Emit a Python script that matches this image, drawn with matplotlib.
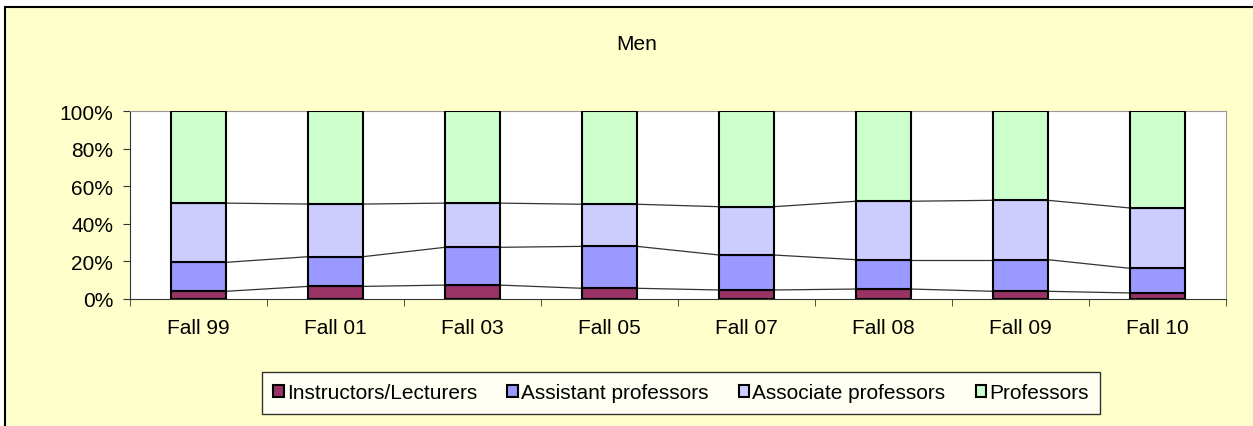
import matplotlib.pyplot as plt
import numpy as np
from matplotlib.patches import Rectangle
from matplotlib.ticker import PercentFormatter

plt.rcParams['font.family'] = ['Liberation Sans', 'DejaVu Sans']

# share of men faculty by rank, percent
terms = ["Fall 99", "Fall 01", "Fall 03", "Fall 05", "Fall 07", "Fall 08", "Fall 09", "Fall 10"]
instructors = [4.1, 6.7, 7.4, 5.7, 4.8, 5.3, 4.1, 3.2]
assistant = [15.4, 15.8, 20.1, 22.3, 18.6, 15.6, 16.8, 13.1]
associate = [31.5, 28.0, 23.5, 22.4, 25.7, 31.1, 31.6, 32.1]
professors = [49.0, 49.5, 49.0, 49.6, 50.9, 48.0, 47.5, 51.6]

series = [
    ("Instructors/Lecturers", instructors, "#993366"),
    ("Assistant professors", assistant, "#9999FF"),
    ("Associate professors", associate, "#CCCCFF"),
    ("Professors", professors, "#CCFFCC"),
]

bg = "#FFFFCC"
fs = 15
fig = plt.figure(figsize=(12.53, 4.27), dpi=100, facecolor="white")
fig.patches.append(Rectangle((5 / 1253, -0.05), 1.1, 1 - 8 / 427 + 0.05,
                             transform=fig.transFigure, facecolor=bg,
                             edgecolor="black", linewidth=1.5, zorder=-1))

ax = fig.add_axes([130 / 1253, 1 - 300 / 427, 1096 / 1253, 188 / 427])
ax.set_facecolor("white")

x = np.arange(len(terms))
w = 0.4
bottom = np.zeros(len(terms))
handles = []
for name, vals, color in series:
    vals = np.array(vals)
    b = ax.bar(x, vals, w, bottom=bottom, color=color, edgecolor="black",
               linewidth=1.5, label=name, zorder=3)
    handles.append(b)
    top = bottom + vals
    # series lines joining the tops of neighbouring stacks
    if name != "Professors":
        for i in range(len(terms) - 1):
            ax.plot([x[i] + w / 2, x[i + 1] - w / 2], [top[i], top[i + 1]],
                    color="#333333", linewidth=0.9, zorder=2)
    bottom = top

ax.set_xlim(-0.5, len(terms) - 0.5)
ax.set_ylim(0, 100)
ax.set_yticks(np.arange(0, 101, 20))
ax.yaxis.set_major_formatter(PercentFormatter(decimals=0))
ax.set_xticks(x)
ax.set_xticklabels(terms)
ax.set_xticks(np.arange(-0.5, len(terms), 1), minor=True)
ax.tick_params(axis="x", which="major", length=0, pad=14, labelsize=fs)
ax.tick_params(axis="x", which="minor", length=5, color="#333333")
ax.tick_params(axis="y", length=5, pad=7, labelsize=fs, color="#333333")

for side in ["top", "right"]:
    ax.spines[side].set_color("#999999")
ax.spines["left"].set_color("#333333")
ax.spines["bottom"].set_color("#333333")

fig.text(637 / 1253, 1 - 45 / 427, "Men", ha="center", va="center", fontsize=fs)

leg = fig.legend(handles=handles, loc="center", bbox_to_anchor=(681 / 1253, 1 - 394 / 427),
                 ncol=4, frameon=True, fancybox=False, edgecolor="black",
                 handlelength=0.5, handleheight=0.5, handletextpad=0.15,
                 columnspacing=1.45, borderpad=0.55, fontsize=fs)
leg.get_frame().set_linewidth(1.0)

fig.savefig("out.png", dpi=100, facecolor="white")
